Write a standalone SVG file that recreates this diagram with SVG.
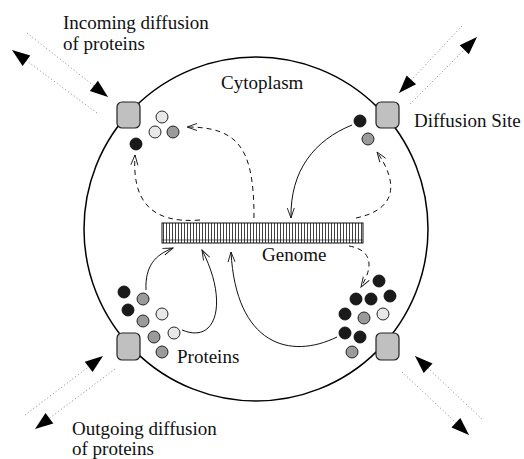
<svg xmlns="http://www.w3.org/2000/svg" width="524" height="459" viewBox="0 0 524 459">
<style>
text{font-family:"Liberation Serif","Times New Roman",serif;font-size:19px;fill:#111}
.site{fill:#c0c0c0;stroke:#222;stroke-width:1.2}
.p{stroke:#111;stroke-width:0.9}
.k{fill:#1a1a1a}.g{fill:#9a9a9a}.l{fill:#e8e8e8}
.conn{fill:none;stroke:#111;stroke-width:1}
.dash{stroke-dasharray:5,4}
.dot{fill:none;stroke:#666;stroke-width:0.8;stroke-dasharray:1,2.5}
</style>
<defs>
<marker id="open" markerUnits="userSpaceOnUse" markerWidth="14" markerHeight="10" refX="0" refY="0" viewBox="-12 -5 14 10" orient="auto" overflow="visible">
<path d="M-10,-3.5 L0,0 L-10,3.5" fill="none" stroke="#111" stroke-width="0.9"/>
</marker>
<marker id="tri" markerUnits="userSpaceOnUse" markerWidth="20" markerHeight="14" refX="0" refY="0" viewBox="-19 -7 20 14" orient="auto" overflow="visible">
<path d="M-18,-6.5 L0,0 L-18,6.5 Z" fill="#000"/>
</marker>
<pattern id="hatch" patternUnits="userSpaceOnUse" x="162" y="0" width="3" height="20">
<line x1="1.5" y1="0" x2="1.5" y2="20" stroke="#111" stroke-width="0.8"/>
</pattern>
</defs>

<g id="cell">
<circle cx="256" cy="229" r="172" fill="none" stroke="#000" stroke-width="1.5"/>
</g>

<g id="genome">
<rect x="162" y="223" width="201" height="20" fill="url(#hatch)" stroke="#111" stroke-width="1"/>
<line x1="162" y1="240" x2="363" y2="240" stroke="#111" stroke-width="0.6"/>
</g>

<g id="connectors">
<path class="conn dash" d="M254,218 C254,150 240,127 187,127" marker-end="url(#open)"/>
<path class="conn dash" d="M200,220 C150,224 132,200 135,155" marker-end="url(#open)"/>
<path class="conn" d="M352,125 C315,140 290,170 291,218" marker-end="url(#open)"/>
<path class="conn dash" d="M356,218 C395,210 400,185 377,152" marker-end="url(#open)"/>
<path class="conn dash" d="M349,246 C372,250 374,266 361,287" marker-end="url(#open)"/>
<path class="conn" d="M146,290 C145,266 155,255 173,248" marker-end="url(#open)"/>
<path class="conn" d="M182,330 C218,345 228,300 202,250" marker-end="url(#open)"/>
<path class="conn" d="M337,337 C290,360 236,345 231,252" marker-end="url(#open)"/>
<path class="dot" d="M27,33 L108,97" marker-end="url(#tri)"/>
<path class="dot" d="M97,113 L12,50" marker-end="url(#tri)"/>
<path class="dot" d="M462,26 L399,93" marker-end="url(#tri)"/>
<path class="dot" d="M410,104 L477,37" marker-end="url(#tri)"/>
<path class="dot" d="M25,415 L103,356" marker-end="url(#tri)"/>
<path class="dot" d="M115,369 L35,429" marker-end="url(#tri)"/>
<path class="dot" d="M482,419 L415,356" marker-end="url(#tri)"/>
<path class="dot" d="M402,372 L469,435" marker-end="url(#tri)"/>
</g>

<g id="site-tl"><rect class="site" x="117" y="102" width="23" height="26" rx="5"/></g>
<g id="site-tr"><rect class="site" x="376" y="102" width="23" height="26" rx="5"/></g>
<g id="site-bl"><rect class="site" x="117" y="333" width="23" height="27" rx="5"/></g>
<g id="site-br"><rect class="site" x="376" y="333" width="23" height="27" rx="5"/></g>

<g id="proteins-tl">
<circle class="p k" cx="136" cy="144" r="6"/>
<circle class="p l" cx="162" cy="117" r="6"/>
<circle class="p l" cx="155" cy="132" r="6"/>
<circle class="p g" cx="173" cy="132" r="6"/>
</g>
<g id="proteins-tr">
<circle class="p k" cx="360" cy="121" r="6"/>
<circle class="p g" cx="368" cy="139" r="6"/>
</g>
<g id="proteins-bl">
<circle class="p k" cx="124" cy="292" r="6"/>
<circle class="p g" cx="143" cy="299" r="6"/>
<circle class="p k" cx="128" cy="310" r="6"/>
<circle class="p l" cx="162" cy="314" r="6"/>
<circle class="p g" cx="143" cy="321" r="6"/>
<circle class="p g" cx="154" cy="337" r="6"/>
<circle class="p l" cx="174" cy="333" r="6"/>
<circle class="p g" cx="162" cy="352" r="6"/>
</g>
<g id="proteins-br">
<circle class="p k" cx="379" cy="281" r="6"/>
<circle class="p k" cx="356" cy="299" r="6"/>
<circle class="p k" cx="371" cy="299" r="6"/>
<circle class="p k" cx="390" cy="296" r="6"/>
<circle class="p k" cx="345" cy="314" r="6"/>
<circle class="p g" cx="364" cy="318" r="6"/>
<circle class="p l" cx="383" cy="314" r="6"/>
<circle class="p k" cx="345" cy="333" r="6"/>
<circle class="p k" cx="360" cy="337" r="6"/>
<circle class="p g" cx="352" cy="352" r="6"/>
</g>

<g id="labels">
<text x="63" y="29">Incoming diffusion</text>
<text x="63" y="50">of proteins</text>
<text x="221" y="89">Cytoplasm</text>
<text x="414" y="127">Diffusion Site</text>
<text x="262" y="261">Genome</text>
<text x="177" y="363">Proteins</text>
<text x="72" y="435">Outgoing diffusion</text>
<text x="72" y="455">of proteins</text>
</g>
</svg>
